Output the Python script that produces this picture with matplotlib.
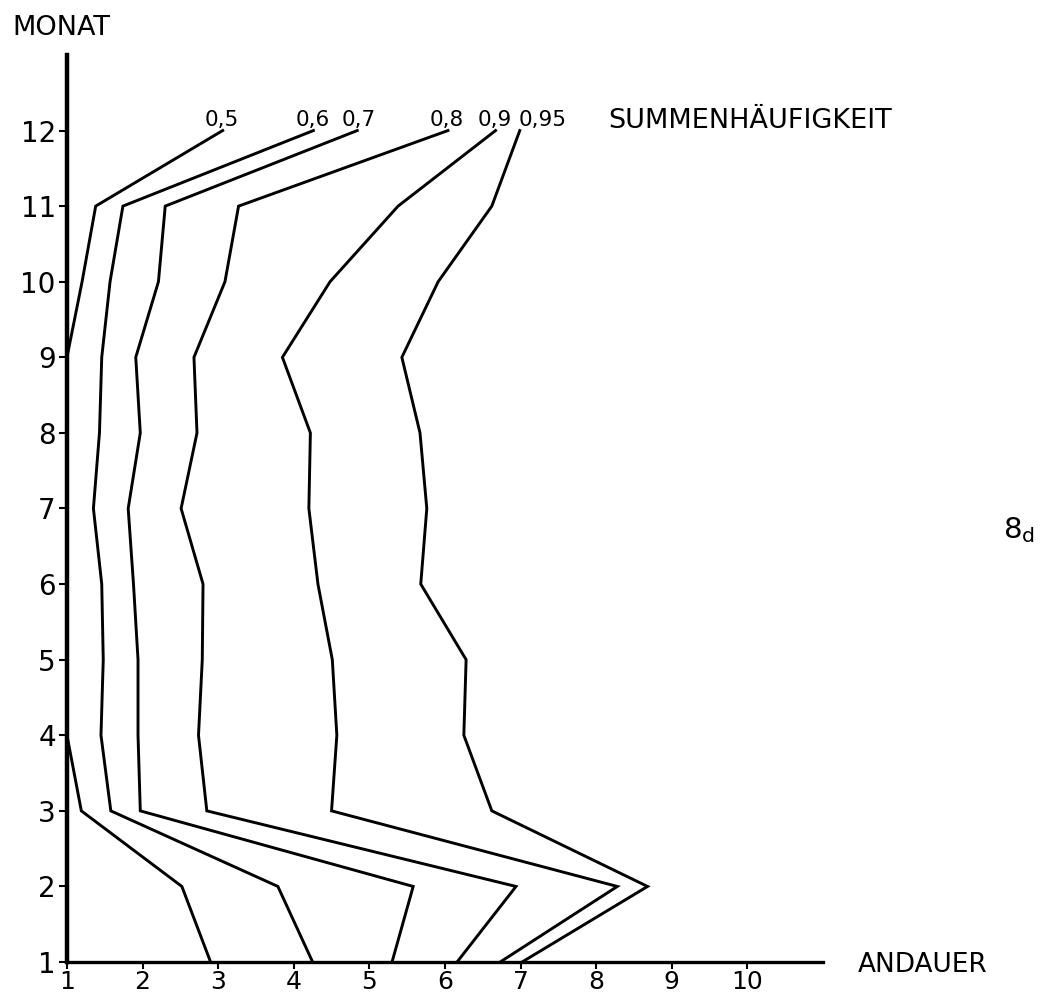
import matplotlib
matplotlib.use("Agg")
import matplotlib.pyplot as plt

# month (1..12) on y, duration (Andauer) on x, one curve per cumulative frequency
monat = [1, 2, 3, 4, 5, 6, 7, 8, 9, 10, 11, 12]
labels = ["0,5", "0,6", "0,7", "0,8", "0,9", "0,95"]
q050 = [2.90, 2.52, 1.19, 1.00, 1.00, 1.00, 1.00, 1.00, 1.00, 1.20, 1.38, 3.06]
q060 = [4.25, 3.79, 1.58, 1.45, 1.48, 1.46, 1.35, 1.43, 1.46, 1.57, 1.74, 4.26]
q070 = [5.30, 5.58, 1.97, 1.94, 1.94, 1.88, 1.81, 1.97, 1.91, 2.21, 2.30, 4.84]
q080 = [6.16, 6.94, 2.85, 2.74, 2.79, 2.80, 2.51, 2.72, 2.68, 3.09, 3.27, 6.04]
q090 = [6.73, 8.28, 4.50, 4.57, 4.51, 4.32, 4.20, 4.22, 3.85, 4.48, 5.38, 6.67]
q095 = [7.02, 8.68, 6.62, 6.25, 6.28, 5.68, 5.76, 5.67, 5.43, 5.91, 6.62, 6.99]
curves = [q050, q060, q070, q080, q090, q095]

x_ticks = [1, 2, 3, 4, 5, 6, 7, 8, 9, 10]
y_ticks = monat

fig = plt.figure(figsize=(10.43, 9.99), dpi=100)
ax = fig.add_axes([0.0642, 0.037, 0.7248, 0.908])

for vals in curves:
    ax.plot(vals, monat, color="black", lw=2.1, solid_joinstyle="miter", clip_on=False)

# curve labels at the top ends
dx = [-13, -13, -11, -13, -13, -1]
for vals, lab, d in zip(curves, labels, dx):
    ax.annotate(lab, xy=(vals[-1], monat[-1]), xytext=(d, 3), textcoords="offset points",
                ha="left", va="baseline", fontsize=15.5)

ax.text(8.16, 12.04, "SUMMENHÄUFIGKEIT", fontsize=19.5, ha="left", va="baseline")

ax.set_xlim(1, 11)
ax.set_ylim(1, 13)
ax.set_xticks(x_ticks)
ax.set_yticks(y_ticks)
ax.tick_params(axis="both", direction="out", color="black")
ax.tick_params(axis="y", labelsize=20, length=6, width=1.5, pad=2)
ax.tick_params(axis="x", labelsize=18, length=5, width=1.5, pad=1)
ax.spines["top"].set_visible(False)
ax.spines["right"].set_visible(False)
ax.spines["left"].set_linewidth(3.2)
ax.spines["bottom"].set_linewidth(2.4)

fig.text(0.0115, 0.965, "MONAT", fontsize=19.5, ha="left", va="baseline")
fig.text(0.822, 0.027, "ANDAUER", fontsize=19, ha="left", va="baseline")
fig.text(0.962, 0.461, r"8$_\mathregular{d}$", fontsize=21, ha="left", va="baseline")

fig.savefig("out.png", dpi=100, facecolor="white")
